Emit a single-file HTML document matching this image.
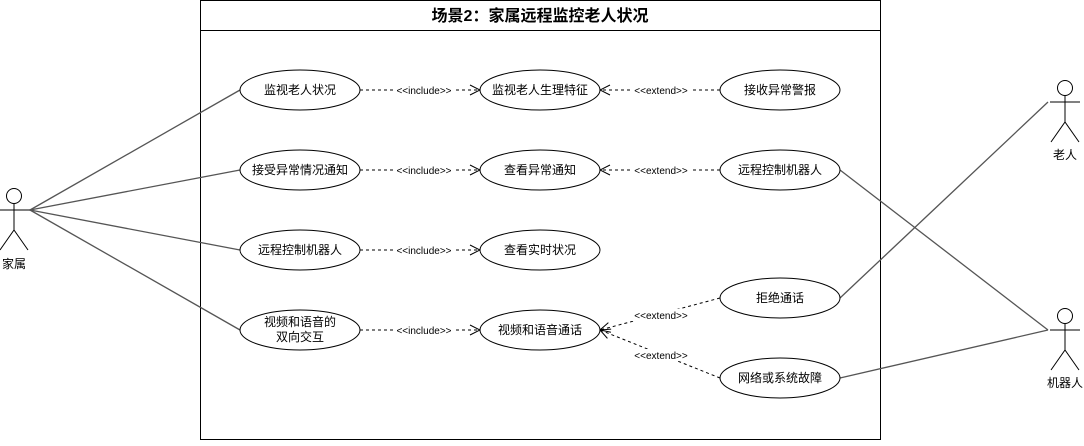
<!DOCTYPE html>
<html><head><meta charset="utf-8"><style>
body{margin:0;background:#fff}
svg text{font-family:"Liberation Sans","Noto Sans CJK SC",sans-serif}
</style></head><body>
<svg width="1084" height="441" xmlns="http://www.w3.org/2000/svg">
<defs>
<marker id="oa" markerWidth="12" markerHeight="12" refX="11" refY="6" orient="auto" markerUnits="userSpaceOnUse">
<path d="M1,1 L11,6 L1,11" fill="none" stroke="#000" stroke-width="1"/>
</marker>
</defs>
<rect x="200.5" y="0.5" width="680" height="439" fill="#fff" stroke="#000"/>
<line x1="200" y1="30.5" x2="880" y2="30.5" stroke="#000"/>
<text x="540" y="21" text-anchor="middle" font-size="16" font-weight="bold">场景2：家属远程监控老人状况</text>
<g stroke="#555" stroke-width="1.3" fill="none">
<line x1="30" y1="210" x2="240" y2="90"/>
<line x1="30" y1="210" x2="240" y2="170"/>
<line x1="30" y1="210" x2="240" y2="250"/>
<line x1="30" y1="210" x2="240" y2="330"/>
<line x1="1048" y1="102" x2="840" y2="298"/>
<line x1="1048" y1="330" x2="840" y2="170"/>
<line x1="1048" y1="330" x2="840" y2="378"/>
</g>
<g stroke="#000" stroke-width="1" stroke-dasharray="3,3" fill="none">
<line x1="360" y1="90" x2="480" y2="90" marker-end="url(#oa)"/>
<line x1="360" y1="170" x2="480" y2="170" marker-end="url(#oa)"/>
<line x1="360" y1="250" x2="480" y2="250" marker-end="url(#oa)"/>
<line x1="360" y1="330" x2="480" y2="330" marker-end="url(#oa)"/>
<line x1="720" y1="90" x2="600" y2="90" marker-end="url(#oa)"/>
<line x1="720" y1="170" x2="600" y2="170" marker-end="url(#oa)"/>
<line x1="720" y1="298" x2="600" y2="330" marker-end="url(#oa)"/>
<line x1="720" y1="378" x2="600" y2="330" marker-end="url(#oa)"/>
</g>
<g font-size="10" text-anchor="middle">
<rect x="393" y="84" width="62" height="12" fill="#fff"/><text x="424" y="94">&lt;&lt;include&gt;&gt;</text>
<rect x="393" y="164" width="62" height="12" fill="#fff"/><text x="424" y="174">&lt;&lt;include&gt;&gt;</text>
<rect x="393" y="244" width="62" height="12" fill="#fff"/><text x="424" y="254">&lt;&lt;include&gt;&gt;</text>
<rect x="393" y="324" width="62" height="12" fill="#fff"/><text x="424" y="334">&lt;&lt;include&gt;&gt;</text>
<rect x="632" y="84" width="58" height="12" fill="#fff"/><text x="661" y="94">&lt;&lt;extend&gt;&gt;</text>
<rect x="632" y="164" width="58" height="12" fill="#fff"/><text x="661" y="174">&lt;&lt;extend&gt;&gt;</text>
<rect x="632" y="309" width="58" height="12" fill="#fff"/><text x="661" y="319">&lt;&lt;extend&gt;&gt;</text>
<rect x="632" y="349" width="58" height="12" fill="#fff"/><text x="661" y="359">&lt;&lt;extend&gt;&gt;</text>
</g>
<g fill="#fff" stroke="#000">
<ellipse cx="300" cy="90" rx="60" ry="20"/><ellipse cx="300" cy="170" rx="60" ry="20"/>
<ellipse cx="300" cy="250" rx="60" ry="20"/><ellipse cx="300" cy="330" rx="60" ry="20"/>
<ellipse cx="540" cy="90" rx="60" ry="20"/><ellipse cx="540" cy="170" rx="60" ry="20"/>
<ellipse cx="540" cy="250" rx="60" ry="20"/><ellipse cx="540" cy="330" rx="60" ry="20"/>
<ellipse cx="780" cy="90" rx="60" ry="20"/><ellipse cx="780" cy="170" rx="60" ry="20"/>
<ellipse cx="780" cy="298" rx="60" ry="20"/><ellipse cx="780" cy="378" rx="60" ry="20"/>
</g>
<g font-size="12" text-anchor="middle">
<text x="300" y="94">监视老人状况</text>
<text x="300" y="174">接受异常情况通知</text>
<text x="300" y="254">远程控制机器人</text>
<text x="300" y="326">视频和语音的</text><text x="300" y="341">双向交互</text>
<text x="540" y="94">监视老人生理特征</text>
<text x="540" y="174">查看异常通知</text>
<text x="540" y="254">查看实时状况</text>
<text x="540" y="334">视频和语音通话</text>
<text x="780" y="94">接收异常警报</text>
<text x="780" y="174">远程控制机器人</text>
<text x="780" y="302">拒绝通话</text>
<text x="780" y="382">网络或系统故障</text>
</g>
<g stroke="#000" fill="#fff" stroke-width="1">
<circle cx="14" cy="196" r="7.5"/>
<path d="M14,204 V230 M0,210 H30 M0,250 L14,230 L28,250" fill="none"/>
<circle cx="1065" cy="88" r="7.5"/>
<path d="M1065,96 V122 M1050,102 H1080 M1051,142 L1065,122 L1079,142" fill="none"/>
<circle cx="1065" cy="316" r="7.5"/>
<path d="M1065,324 V350 M1050,330 H1080 M1051,370 L1065,350 L1079,370" fill="none"/>
</g>
<g font-size="12" text-anchor="middle">
<text x="14" y="268">家属</text>
<text x="1065" y="159">老人</text>
<text x="1065" y="387">机器人</text>
</g>
</svg>
</body></html>
